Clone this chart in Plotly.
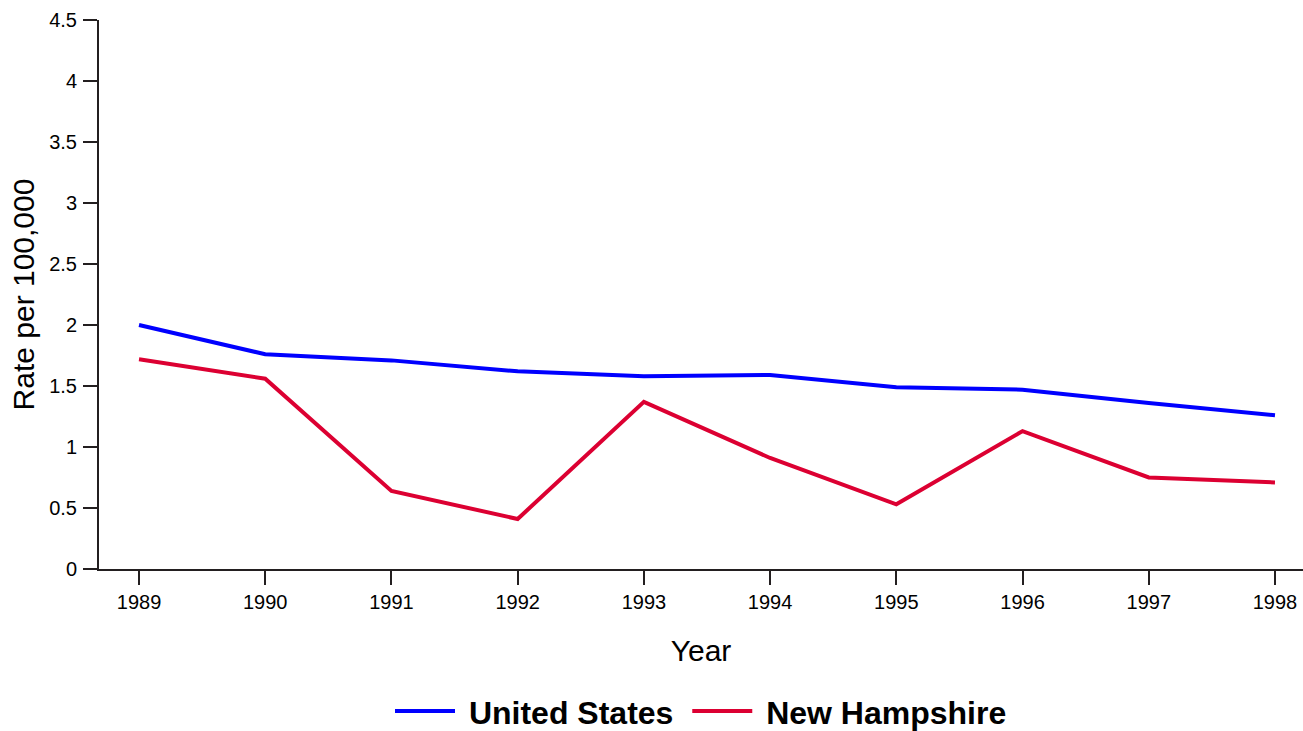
import plotly.graph_objects as go

years = [1989, 1990, 1991, 1992, 1993, 1994, 1995, 1996, 1997, 1998]
us_rate = [2.00, 1.76, 1.71, 1.62, 1.58, 1.59, 1.49, 1.47, 1.36, 1.26]
nh_rate = [1.72, 1.56, 0.64, 0.41, 1.37, 0.91, 0.53, 1.13, 0.75, 0.71]
y_ticks = [0, 0.5, 1, 1.5, 2, 2.5, 3, 3.5, 4, 4.5]
y_tick_text = ["0", "0.5", "1", "1.5", "2", "2.5", "3", "3.5", "4", "4.5"]

FONT = "Liberation Sans, Arial, sans-serif"

fig = go.Figure()
fig.add_trace(go.Scatter(x=years, y=us_rate, mode="lines", name="\u00a0United States\u00a0",
                         line=dict(color="#0000FF", width=4)))
fig.add_trace(go.Scatter(x=years, y=nh_rate, mode="lines", name="\u00a0New Hampshire",
                         line=dict(color="#DC0032", width=4)))

fig.update_layout(
    width=1303, height=731,
    margin=dict(l=99, r=0, t=20, b=162, autoexpand=False),
    paper_bgcolor="white", plot_bgcolor="white",
    font=dict(family=FONT, color="#000000"),
    showlegend=True,
    legend=dict(orientation="h", x=0.5, xanchor="center", y=-0.209, yanchor="top",
                font=dict(size=32, family=FONT, weight="bold"),
                itemwidth=60, tracegroupgap=0),
    xaxis=dict(range=[1988.683, 1998.222], tickvals=years, ticktext=[str(y) for y in years],
               showline=True, linecolor="#231F20", linewidth=2,
               ticks="outside", ticklen=14, tickwidth=2, tickcolor="#231F20",
               tickfont=dict(size=20), showgrid=False, zeroline=False,
               title=dict(text="Year", font=dict(size=30), standoff=28)),
    yaxis=dict(range=[0, 4.5], tickvals=y_ticks, ticktext=y_tick_text,
               showline=True, linecolor="#231F20", linewidth=2,
               ticks="outside", ticklen=14, tickwidth=2, tickcolor="#231F20",
               tickfont=dict(size=20), ticklabelstandoff=2, showgrid=False, zeroline=False,
               title=dict(text="Rate per 100,000", font=dict(size=30), standoff=6)),
)

fig.write_html("out.html", config={"displayModeBar": False},
               post_script="document.body.style.margin='0';")
